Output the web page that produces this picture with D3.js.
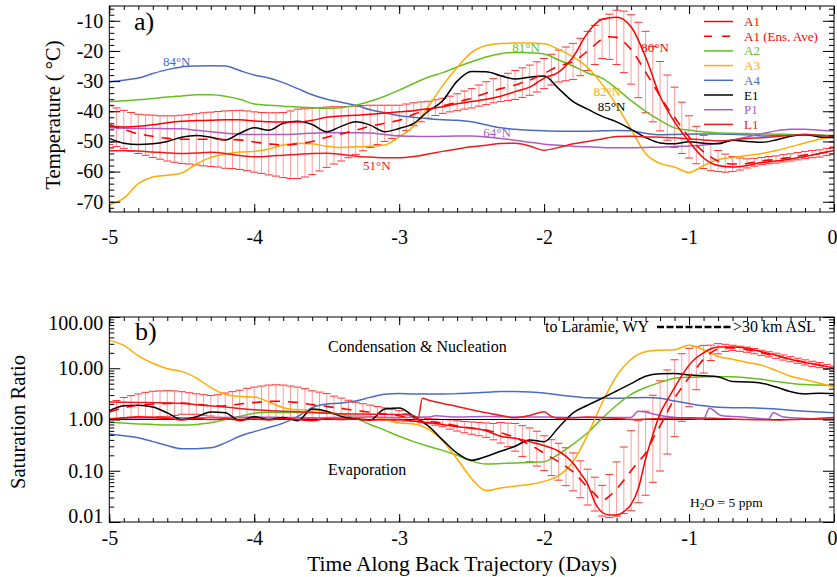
<!DOCTYPE html>
<html>
<head>
<meta charset="utf-8">
<script src="https://d3js.org/d3.v7.min.js"></script>
<style>
  body { margin: 0; background: #fff; }
  svg { display: block; font-family: "Liberation Serif", "Times New Roman", serif; }
  text { font-family: "Liberation Serif", "Times New Roman", serif; }
</style>
</head>
<body>
<svg id="chart" width="837" height="577"></svg>
<script>
// time grids (days along the back trajectory)
const days = d3.range(51).map(i => +(-5 + i * 0.1).toFixed(2));
const ensDays = d3.range(101).map(i => +(-5 + i * 0.05).toFixed(2));
const xMajor = [-5, -4, -3, -2, -1, 0];
const xMinor = d3.range(51).map(i => +(-5 + i * 0.1).toFixed(2));
const tempMajor = [-70, -60, -50, -40, -30, -20, -10];
const tempMinor = d3.range(-72, -5, 2);
const satMajor = [0.01, 0.1, 1, 10, 100];

// ---- panel a: temperature (°C), 0.1 day steps ----
const tempA1 = [-45, -45.2, -45, -44.5, -43.8, -43.3, -43.1, -43, -42.8, -42.8, -43.2,
  -43.5, -43.6, -43.6, -43, -42, -41.6, -41.3, -41, -40.6, -40.2,
  -39.8, -39.2, -38.5, -37.5, -36.8, -36, -35, -33.5, -32, -29,
  -27, -22, -14, -9.5, -8.8, -12, -22, -35, -43.5, -50,
  -55.5, -58, -58.5, -58, -57, -56.5, -55.8, -55, -54, -53];
const tempA2 = [-36.8, -36.5, -36.2, -35.8, -35.3, -34.9, -34.5, -34.5, -35, -36, -37.6,
  -38, -38.3, -38.6, -38.8, -39, -38.8, -38, -36.7, -35, -33,
  -30.8, -28.7, -27.2, -25.3, -23.6, -22, -20.9, -20.5, -20.6, -21,
  -23, -25, -27.3, -29, -32.5, -36.5, -40, -43, -45.5, -46.3,
  -46.8, -47.2, -47.3, -47.4, -47.5, -47.6, -47.7, -47.8, -47.9, -48];
const tempA3 = [-71, -68.8, -64, -61.8, -61.2, -60.5, -57.5, -55.3, -54.2, -53.5, -53.3,
  -52.5, -51.2, -50.6, -50.8, -51.6, -52, -51.8, -51.6, -51.2, -48.5,
  -45, -38.5, -31.5, -25.5, -20.5, -18.2, -17.5, -17.4, -17.4, -17.6,
  -19.5, -22, -25.5, -31, -38, -46, -54, -57.3, -58.5, -60.3,
  -58, -56, -55.3, -54.7, -54, -53, -51.8, -50.5, -49.3, -48.4];
const tempA4 = [-30.2, -29.7, -29, -27.5, -26.2, -25.3, -25, -24.9, -25, -26.5, -28,
  -29, -30.5, -32.5, -34.5, -36, -37, -38, -39.5, -40.5, -41.5,
  -42, -42.5, -42.8, -43, -43.5, -44.5, -45.5, -46, -46.3, -46.5,
  -46.6, -46.6, -46.6, -46.5, -46.4, -46.5, -47.3, -47.8, -47.7, -47.6,
  -47.5, -47.5, -47.6, -47.8, -48.2, -48, -47.8, -47.8, -48, -48.2];
const tempE1 = [-49, -50.6, -51, -50.8, -50, -48.6, -48, -48.6, -49.5, -47.3, -45.5,
  -46.3, -44, -43.3, -44.4, -46.8, -45, -43.5, -44.6, -46.8, -45.7,
  -44, -40, -36.5, -30, -26.8, -26.9, -28.2, -29.3, -28.7, -28.3,
  -32.5, -36.8, -39.3, -41.7, -43.5, -46, -48.7, -50.5, -50.8, -50.1,
  -50.6, -50.8, -49.6, -50, -50.3, -49.5, -48.3, -47.8, -48.5, -48.7];
const tempP1 = [-45.5, -45.6, -45.7, -45.7, -45.8, -45.8, -46.3, -46.8, -47.3, -47.6, -47.7,
  -47.7, -47.7, -47.5, -47.3, -47.1, -47.1, -47.1, -47.2, -47.7, -48.2,
  -48.3, -48.4, -48.3, -48.2, -48.2, -48.5, -49, -49.6, -50.3, -50.9,
  -51.3, -51.6, -51.8, -52, -52.1, -52.1, -52, -51.9, -51.7, -51.5,
  -51.2, -50.5, -49.5, -48.5, -47.5, -46.5, -46, -46, -46.3, -46.5];
const tempL1 = [-53.1, -53.1, -53.2, -53.5, -53.8, -54, -53.8, -53.6, -54, -54.7, -55.1,
  -54.9, -54.6, -54.3, -54, -53.9, -54.3, -54.9, -55.2, -55.4, -55.4,
  -55, -54.2, -53.3, -52.5, -51.8, -51.3, -50.7, -50.6, -51.5, -52.9,
  -52, -50.8, -50, -49.2, -48.4, -48.3, -48.5, -48.6, -48.8, -49.2,
  -49.5, -49.8, -49.5, -49, -48.8, -48.4, -48, -47.6, -48, -48.4];

// A1 ensemble average and spread, 0.05 day steps
const ensTempMean = [-44.5, -45.3, -46, -46.8, -47.5, -47.9, -48.3, -48.7, -49, -49.2,
  -49.3, -49.3, -49.3, -49.3, -49.3, -49.3, -49.4, -49.4, -49.5, -49.8,
  -50.2, -50.5, -50.8, -51, -51.2, -51.1, -50.8, -50.5, -50, -49.3,
  -48.6, -48, -47.5, -46.9, -46.3, -45.6, -45, -44.5, -44, -43.5,
  -43, -42, -41, -40.2, -39.5, -38.8, -38.2, -37.6, -37, -36.3,
  -35.7, -34.8, -34, -33.2, -32.5, -31.9, -31.3, -30.5, -29.7, -28.6,
  -27.5, -26.2, -25, -24.3, -23.5, -22, -20, -18, -16, -15.3,
  -15.5, -17, -19.5, -23, -27, -31, -35, -38.8, -42, -45.5,
  -48.5, -51.2, -53.5, -55.2, -56.5, -57.2, -57.5, -57.5, -57.3, -56.9,
  -56.5, -56.2, -56, -55.6, -55.3, -54.9, -54.5, -54.2, -54, -53.5,
  -53];
const ensTempErr = [6.5, 6.4, 6.3, 6.4, 6.5, 6.7, 7, 7.2, 7.5, 7.7,
  8, 8.2, 8.5, 8.8, 9, 9.2, 9.5, 9.6, 9.8, 9.9,
  10, 10.1, 10.3, 10.5, 10.8, 11.2, 11.5, 11.3, 11, 10.5,
  10, 9.5, 9, 8.5, 8, 7.5, 7, 6.5, 6, 5.5,
  5, 4.4, 3.8, 3.3, 2.8, 2.6, 2.5, 2.6, 2.8, 3,
  3.2, 3.5, 3.8, 4, 4.3, 4.5, 4.8, 4.9, 5, 5,
  5, 5.1, 5.3, 5.6, 6, 6.2, 6.5, 6.5, 6.5, 7.5,
  9, 10.2, 11.5, 12.5, 13.5, 12.5, 11.5, 10.8, 10, 8.5,
  7, 6.2, 5.5, 4.5, 3.5, 3, 2.5, 2, 1.5, 1.3,
  1.2, 1.2, 1.2, 1.2, 1.2, 1.2, 1.2, 1.2, 1.2, 1.2,
  1.2];

// ---- panel b: saturation ratio ----
const satA2 = [0.88, 0.85, 0.82, 0.8, 0.78, 0.78, 0.8, 0.86, 1.0, 1.15, 1.33,
  1.38, 1.37, 1.37, 1.35, 1.33, 1.25, 1.05, 0.8, 0.62, 0.47,
  0.37, 0.3, 0.25, 0.2, 0.155, 0.135, 0.138, 0.142, 0.145, 0.15,
  0.21, 0.33, 0.55, 1.05, 1.9, 3.1, 4.2, 5.3, 6.4, 6.7,
  6.8, 6.85, 6.8, 6.5, 6.1, 5.5, 5.1, 4.8, 4.7, 4.6];
const satA3 = [35, 28, 17.5, 12.5, 9.8, 8.7, 6.5, 4.2, 3.1, 2.8, 2.75,
  2.2, 1.7, 1.55, 1.55, 1.4, 1.25, 1.2, 1.15, 1.0, 0.85,
  0.82, 0.65, 0.38, 0.17, 0.07, 0.041, 0.046, 0.05, 0.054, 0.062,
  0.08, 0.15, 0.5, 2.1, 7, 15, 21, 22.5, 23, 28,
  23, 17, 15, 13, 11.5, 9, 7, 6, 5.1, 4.3];
const satA4 = [0.52, 0.48, 0.44, 0.37, 0.31, 0.27, 0.27, 0.28, 0.35, 0.47, 0.58,
  0.7, 0.85, 1.15, 1.7, 2.0, 2.1, 2.3, 2.7, 3.1, 3.2,
  3.15, 3.15, 3.15, 3.2, 3.3, 3.4, 3.5, 3.5, 3.45, 3.3,
  3.0, 2.8, 2.65, 2.6, 2.6, 2.65, 2.7, 2.6, 2.3, 2.05,
  1.85, 1.73, 1.7, 1.7, 1.65, 1.6, 1.52, 1.45, 1.4, 1.36];
const satE1 = [1.48, 1.85, 1.9, 1.75, 1.35, 1.0, 1.13, 1.4, 1.35, 0.95, 1.13,
  1.0, 1.1, 0.95, 1.6, 1.45, 1.15, 1.02, 0.98, 1.6, 1.67,
  1.15, 0.75, 0.4, 0.22, 0.16, 0.19, 0.24, 0.3, 0.4, 0.37,
  0.7, 1.35, 1.9, 2.6, 3.6, 5, 7, 7.8, 7.9, 7.4,
  7.1, 6.8, 5.5, 5.4, 5.1, 4.3, 3.5, 3.15, 3.25, 3.2];
// [day, ratio] pairs where the trace has sharp features
const satA1 = [[-5, 1.0], [-4.9, 1.08], [-4.8, 1.12], [-4.7, 1.1], [-4.6, 1.05], [-4.5, 0.98],
  [-4.4, 1.05], [-4.3, 1.0], [-4.2, 1.03], [-4.1, 0.97], [-4.0, 1.02], [-3.9, 0.98],
  [-3.8, 1.05], [-3.7, 1.0], [-3.6, 0.95], [-3.5, 1.03], [-3.4, 1.0], [-3.3, 1.02],
  [-3.2, 0.97], [-3.1, 1.0], [-3.0, 1.0], [-2.9, 0.93], [-2.8, 0.87], [-2.7, 0.8],
  [-2.6, 0.72], [-2.5, 0.68], [-2.4, 0.6], [-2.3, 0.47], [-2.2, 0.43], [-2.1, 0.37],
  [-2.0, 0.31], [-1.9, 0.24], [-1.8, 0.14], [-1.75, 0.09], [-1.7, 0.055], [-1.65, 0.024],
  [-1.6, 0.0155], [-1.55, 0.0137], [-1.5, 0.0137], [-1.45, 0.016], [-1.4, 0.022],
  [-1.35, 0.045], [-1.3, 0.17], [-1.25, 0.5], [-1.2, 1.3], [-1.15, 2.4], [-1.1, 4.2],
  [-1.05, 7.2], [-1.0, 11.5], [-0.95, 16], [-0.9, 20], [-0.85, 24], [-0.8, 26],
  [-0.7, 26], [-0.6, 24.5], [-0.5, 21], [-0.4, 18], [-0.3, 15], [-0.2, 13], [-0.1, 11.5], [0, 10]];
const satP1 = [[-5, 1.05], [-4.8, 1.07], [-4.5, 1.08], [-4.2, 1.1], [-4.0, 1.12], [-3.8, 1.1],
  [-3.6, 1.08], [-3.4, 1.1], [-3.2, 1.12], [-3.0, 1.1], [-2.8, 1.12], [-2.75, 1.18],
  [-2.6, 1.12], [-2.4, 1.14], [-2.2, 1.12], [-2.0, 1.12], [-1.8, 1.1], [-1.6, 1.1],
  [-1.4, 1.1], [-1.35, 1.45], [-1.2, 1.2], [-1.0, 1.05], [-0.9, 1.02], [-0.86, 1.65],
  [-0.78, 1.2], [-0.6, 1.1], [-0.45, 1.02], [-0.42, 1.35], [-0.35, 1.12], [-0.2, 1.05], [0, 1.02]];
const satL1 = [[-5, 2.2], [-4.8, 2.15], [-4.6, 2.1], [-4.5, 2.05], [-4.4, 1.95], [-4.2, 1.75],
  [-4.0, 1.55], [-3.8, 1.45], [-3.6, 1.38], [-3.4, 1.3], [-3.2, 1.27], [-3.0, 1.25],
  [-2.9, 1.2], [-2.87, 1.05], [-2.84, 2.6], [-2.8, 2.4], [-2.7, 2.05], [-2.6, 1.8],
  [-2.5, 1.55], [-2.4, 1.35], [-2.3, 1.2], [-2.2, 1.08], [-2.1, 1.2], [-2.0, 1.42],
  [-1.95, 1.15], [-1.9, 1.05], [-1.8, 1.08], [-1.7, 1.12], [-1.6, 1.1], [-1.5, 1.05],
  [-1.4, 1.0], [-1.2, 1.05], [-1.0, 1.08], [-0.8, 1.05], [-0.6, 1.0], [-0.4, 0.98],
  [-0.2, 1.02], [0, 1.1]];

// A1 ensemble average (ratio) and spread (decades), 0.05 day steps
const ensSatMean = [1.4, 1.55, 1.7, 1.8, 1.9, 1.95, 2.0, 2.03, 2.05, 2.08,
  2.1, 2.05, 2.0, 1.92, 1.85, 1.83, 1.85, 1.92, 2.0, 2.08,
  2.15, 2.2, 2.25, 2.27, 2.25, 2.2, 2.15, 2.05, 1.95, 1.88,
  1.8, 1.72, 1.65, 1.57, 1.5, 1.44, 1.38, 1.33, 1.28, 1.23,
  1.18, 1.1, 1.02, 0.97, 0.93, 0.89, 0.85, 0.8, 0.75, 0.71,
  0.68, 0.65, 0.62, 0.58, 0.55, 0.5, 0.45, 0.38, 0.32, 0.27,
  0.22, 0.18, 0.15, 0.12, 0.095, 0.068, 0.048, 0.035, 0.026, 0.032,
  0.044, 0.065, 0.1, 0.15, 0.22, 0.42, 0.75, 1.4, 2.6, 4.2,
  6.6, 10, 15, 20, 24, 25, 25, 24, 23, 21.5,
  20, 18.7, 17.5, 16.2, 15, 14, 13, 12.2, 11.5, 10.6,
  9.8];
const ensSatErr = [0.15, 0.18, 0.2, 0.21, 0.22, 0.24, 0.25, 0.25, 0.25, 0.24,
  0.22, 0.21, 0.2, 0.2, 0.2, 0.22, 0.25, 0.26, 0.27, 0.29,
  0.3, 0.31, 0.32, 0.32, 0.32, 0.31, 0.3, 0.29, 0.27, 0.26,
  0.25, 0.22, 0.2, 0.18, 0.16, 0.15, 0.14, 0.13, 0.12, 0.11,
  0.1, 0.07, 0.05, 0.05, 0.05, 0.06, 0.07, 0.09, 0.1, 0.11,
  0.12, 0.13, 0.14, 0.16, 0.2, 0.23, 0.27, 0.3, 0.33, 0.34,
  0.34, 0.35, 0.36, 0.37, 0.37, 0.36, 0.35, 0.33, 0.3, 0.42,
  0.53, 0.65, 0.78, 0.8, 0.82, 0.85, 0.88, 0.82, 0.75, 0.66,
  0.57, 0.42, 0.27, 0.15, 0.1, 0.07, 0.05, 0.05, 0.05, 0.05,
  0.05, 0.05, 0.05, 0.05, 0.05, 0.05, 0.05, 0.05, 0.05, 0.05,
  0.05];

const colors = { A1: '#ff0000', A2: '#66bf1f', A3: '#ffab00', A4: '#4a6cc0', E1: '#000000', P1: '#ac5cc0', L1: '#ea1c1c' };
const legendItems = [
  { name: 'A1', color: colors.A1, dash: null },
  { name: 'A1 (Ens. Ave)', color: colors.A1, dash: '8,10' },
  { name: 'A2', color: colors.A2, dash: null },
  { name: 'A3', color: colors.A3, dash: null },
  { name: 'A4', color: colors.A4, dash: null },
  { name: 'E1', color: colors.E1, dash: null },
  { name: 'P1', color: colors.P1, dash: null },
  { name: 'L1', color: colors.L1, dash: null }
];
// latitude tags: anchored at (day, °C) of the text's left baseline
const latLabels = [
  { text: '84°N', t: -4.63, v: -25, color: colors.A4 },
  { text: '81°N', t: -2.22, v: -20.4, color: colors.A2 },
  { text: '80°N', t: -1.33, v: -20.4, color: colors.A1 },
  { text: '82°N', t: -1.66, v: -35, color: colors.A3 },
  { text: '85°N', t: -1.63, v: -39.9, color: colors.E1 },
  { text: '64°N', t: -2.42, v: -48.4, color: colors.P1 },
  { text: '51°N', t: -3.25, v: -59.5, color: colors.L1 }
];

const svg = d3.select('#chart');
const x = d3.scaleLinear().domain([-5, 0]).range([109.3, 834]);
const yT = d3.scaleLinear().domain([-73.4, -5.1]).range([212, 6]);
const yS = d3.scaleLog().domain([0.01, 100]).range([522, 317]);
const serif = '"Liberation Serif", "Times New Roman", serif';

const onGrid = (ts, vs) => ts.map((t, i) => [t, vs[i]]);

function panel(id, y) {
  const [bottom, top] = y.range();
  svg.append('clipPath').attr('id', id)
    .append('rect').attr('x', x(-5)).attr('y', top)
    .attr('width', x(0) - x(-5)).attr('height', bottom - top);
  return svg.append('g').attr('clip-path', `url(#${id})`);
}

function errorBars(g, y, rows) {
  const capW = 4;
  g.append('g').selectAll('line').data(rows).join('line')
    .attr('x1', d => x(d.t)).attr('x2', d => x(d.t))
    .attr('y1', d => y(d.lo)).attr('y2', d => y(d.hi))
    .attr('stroke', '#ff9c9c').attr('stroke-width', 1);
  ['lo', 'hi'].forEach(k => {
    g.append('g').selectAll('line').data(rows).join('line')
      .attr('x1', d => x(d.t) - capW).attr('x2', d => x(d.t) + capW)
      .attr('y1', d => y(d[k])).attr('y2', d => y(d[k]))
      .attr('stroke', '#ff3030').attr('stroke-width', 1);
  });
}

function trace(g, y, data, color, dash) {
  const line = d3.line().x(d => x(d[0])).y(d => y(d[1])).curve(d3.curveMonotoneX);
  g.append('path').datum(data).attr('d', line)
    .attr('fill', 'none').attr('stroke', color)
    .attr('stroke-width', dash ? 1.6 : 1.5)
    .attr('stroke-dasharray', dash || null);
}

function axes(y, major, minor, fmt, pad) {
  const [bottom, top] = y.range();
  const g = svg.append('g');
  const style = sel => {
    sel.attr('font-family', serif);
    sel.select('.domain').remove();
    sel.selectAll('line').attr('stroke', '#000');
    sel.selectAll('text').attr('font-family', serif)
      .attr('font-size', 20).attr('fill', '#000');
  };
  g.append('g').attr('transform', `translate(0,${bottom})`)
    .call(d3.axisBottom(x).tickValues(minor.x).tickSize(-4).tickFormat('')).call(style);
  const bottomAxis = g.append('g').attr('transform', `translate(0,${bottom})`)
    .call(d3.axisBottom(x).tickValues(xMajor).tickSize(-8).tickPadding(pad)
      .tickFormat(d => String(d))).call(style);
  // keep the last label inside the page edge
  bottomAxis.selectAll('.tick text').filter(d => d === 0)
    .attr('text-anchor', 'end').attr('x', 3);
  g.append('g').attr('transform', `translate(0,${top})`)
    .call(d3.axisTop(x).tickValues(minor.x).tickSize(-4).tickFormat('')).call(style);
  g.append('g').attr('transform', `translate(0,${top})`)
    .call(d3.axisTop(x).tickValues(xMajor).tickSize(-8).tickFormat('')).call(style);
  g.append('g').attr('transform', `translate(${x(-5)},0)`)
    .call(d3.axisLeft(y).tickValues(minor.y).tickSize(-5).tickFormat('')).call(style);
  const left = g.append('g').attr('transform', `translate(${x(-5)},0)`)
    .call(d3.axisLeft(y).tickValues(major).tickSize(-11).tickPadding(6).tickFormat(fmt)).call(style);
  g.append('g').attr('transform', `translate(${x(0)},0)`)
    .call(d3.axisRight(y).tickValues(minor.y).tickSize(-5).tickFormat('')).call(style);
  g.append('g').attr('transform', `translate(${x(0)},0)`)
    .call(d3.axisRight(y).tickValues(major).tickSize(-11).tickFormat('')).call(style);
  g.append('rect').attr('x', x(-5)).attr('y', top)
    .attr('width', x(0) - x(-5)).attr('height', bottom - top)
    .attr('fill', 'none').attr('stroke', '#000').attr('stroke-width', 1);
  return left;
}

// ---------------- panel a ----------------
const gA = panel('clipA', yT);
errorBars(gA, yT, ensDays.map((t, i) => ({ t, lo: ensTempMean[i] - ensTempErr[i], hi: ensTempMean[i] + ensTempErr[i] })));
trace(gA, yT, onGrid(days, tempA4), colors.A4);
trace(gA, yT, onGrid(days, tempA2), colors.A2);
trace(gA, yT, onGrid(days, tempA3), colors.A3);
trace(gA, yT, onGrid(days, tempP1), colors.P1);
trace(gA, yT, onGrid(days, tempE1), colors.E1);
trace(gA, yT, onGrid(days, tempL1), colors.L1);
trace(gA, yT, onGrid(days, tempA1), colors.A1);
trace(gA, yT, onGrid(ensDays, ensTempMean), colors.A1, '10,8');

axes(yT, tempMajor, { x: xMinor, y: tempMinor }, d => String(d), 17.5);

svg.append('g').selectAll('text').data(latLabels).join('text')
  .attr('x', d => x(d.t)).attr('y', d => yT(d.v))
  .attr('font-family', serif).attr('font-size', 13).attr('fill', d => d.color)
  .text(d => d.text);

const leg = svg.append('g').attr('transform', 'translate(704,21.5)');
legendItems.forEach((d, i) => {
  const row = leg.append('g').attr('transform', `translate(0,${i * 14.7})`);
  row.append('line').attr('x1', 0).attr('x2', 29).attr('y1', 0).attr('y2', 0)
    .attr('stroke', d.color).attr('stroke-width', 1.5)
    .attr('stroke-dasharray', d.dash);
  row.append('text').attr('x', 40).attr('y', 4.5).attr('font-family', serif)
    .attr('font-size', 13).attr('fill', d.color).text(d.name);
});

svg.append('text').attr('x', 134).attr('y', 30).attr('font-family', serif)
  .attr('font-size', 26).text('a)');
svg.append('text').attr('transform', 'translate(60,115) rotate(-90)')
  .attr('text-anchor', 'middle').attr('font-family', serif).attr('font-size', 20.5)
  .text('Temperature ( °C)');

// ---------------- panel b ----------------
const gB = panel('clipB', yS);
errorBars(gB, yS, ensDays.map((t, i) => ({ t, lo: ensSatMean[i] / Math.pow(10, ensSatErr[i]), hi: ensSatMean[i] * Math.pow(10, ensSatErr[i]) })));
gB.append('line').attr('x1', x(-5)).attr('x2', x(0)).attr('y1', yS(1)).attr('y2', yS(1))
  .attr('stroke', '#000').attr('stroke-width', 1.2);
trace(gB, yS, onGrid(days, satA4), colors.A4);
trace(gB, yS, onGrid(days, satA2), colors.A2);
trace(gB, yS, onGrid(days, satA3), colors.A3);
trace(gB, yS, satP1, colors.P1);
trace(gB, yS, onGrid(days, satE1), colors.E1);
trace(gB, yS, satL1, colors.L1);
trace(gB, yS, satA1, colors.A1);
trace(gB, yS, onGrid(ensDays, ensSatMean), colors.A1, '10,8');

const satMinor = [];
[0.01, 0.1, 1, 10].forEach(dec => d3.range(2, 10).forEach(k => satMinor.push(+(dec * k).toPrecision(3))));
const leftB = axes(yS, satMajor, { x: xMinor, y: satMinor }, d3.format('.2f'), 9);
// end labels sit just inside the frame, as in the original
leftB.selectAll('.tick text').attr('dy', d => d === 100 ? '0.62em' : d === 0.01 ? '0.02em' : '0.32em');

svg.append('text').attr('x', 135).attr('y', 340).attr('font-family', serif)
  .attr('font-size', 26).text('b)');
svg.append('text').attr('transform', 'translate(25,422) rotate(-90)')
  .attr('text-anchor', 'middle').attr('font-family', serif).attr('font-size', 20.5)
  .text('Saturation Ratio');

const note = (xp, yp, size, str) => svg.append('text').attr('x', xp).attr('y', yp)
  .attr('font-family', serif).attr('font-size', size).text(str);
note(545, 332, 16, 'to Laramie, WY');
svg.append('line').attr('x1', 657).attr('x2', 733).attr('y1', 327).attr('y2', 327)
  .attr('stroke', '#000').attr('stroke-width', 2.5).attr('stroke-dasharray', '7,2.5');
note(733, 332, 16, '>30 km ASL');
note(328, 352, 16, 'Condensation & Nucleation');
note(328, 475, 16, 'Evaporation');
const h2o = note(690, 507, 13.5, '');
h2o.append('tspan').text('H');
h2o.append('tspan').attr('font-size', 9.5).attr('dy', 3).text('2');
h2o.append('tspan').attr('dy', -3).text('O = 5 ppm');

svg.append('text').attr('x', 462).attr('y', 571).attr('text-anchor', 'middle')
  .attr('font-family', serif).attr('font-size', 21.5).text('Time Along Back Trajectory (Days)');
</script>
</body>
</html>
